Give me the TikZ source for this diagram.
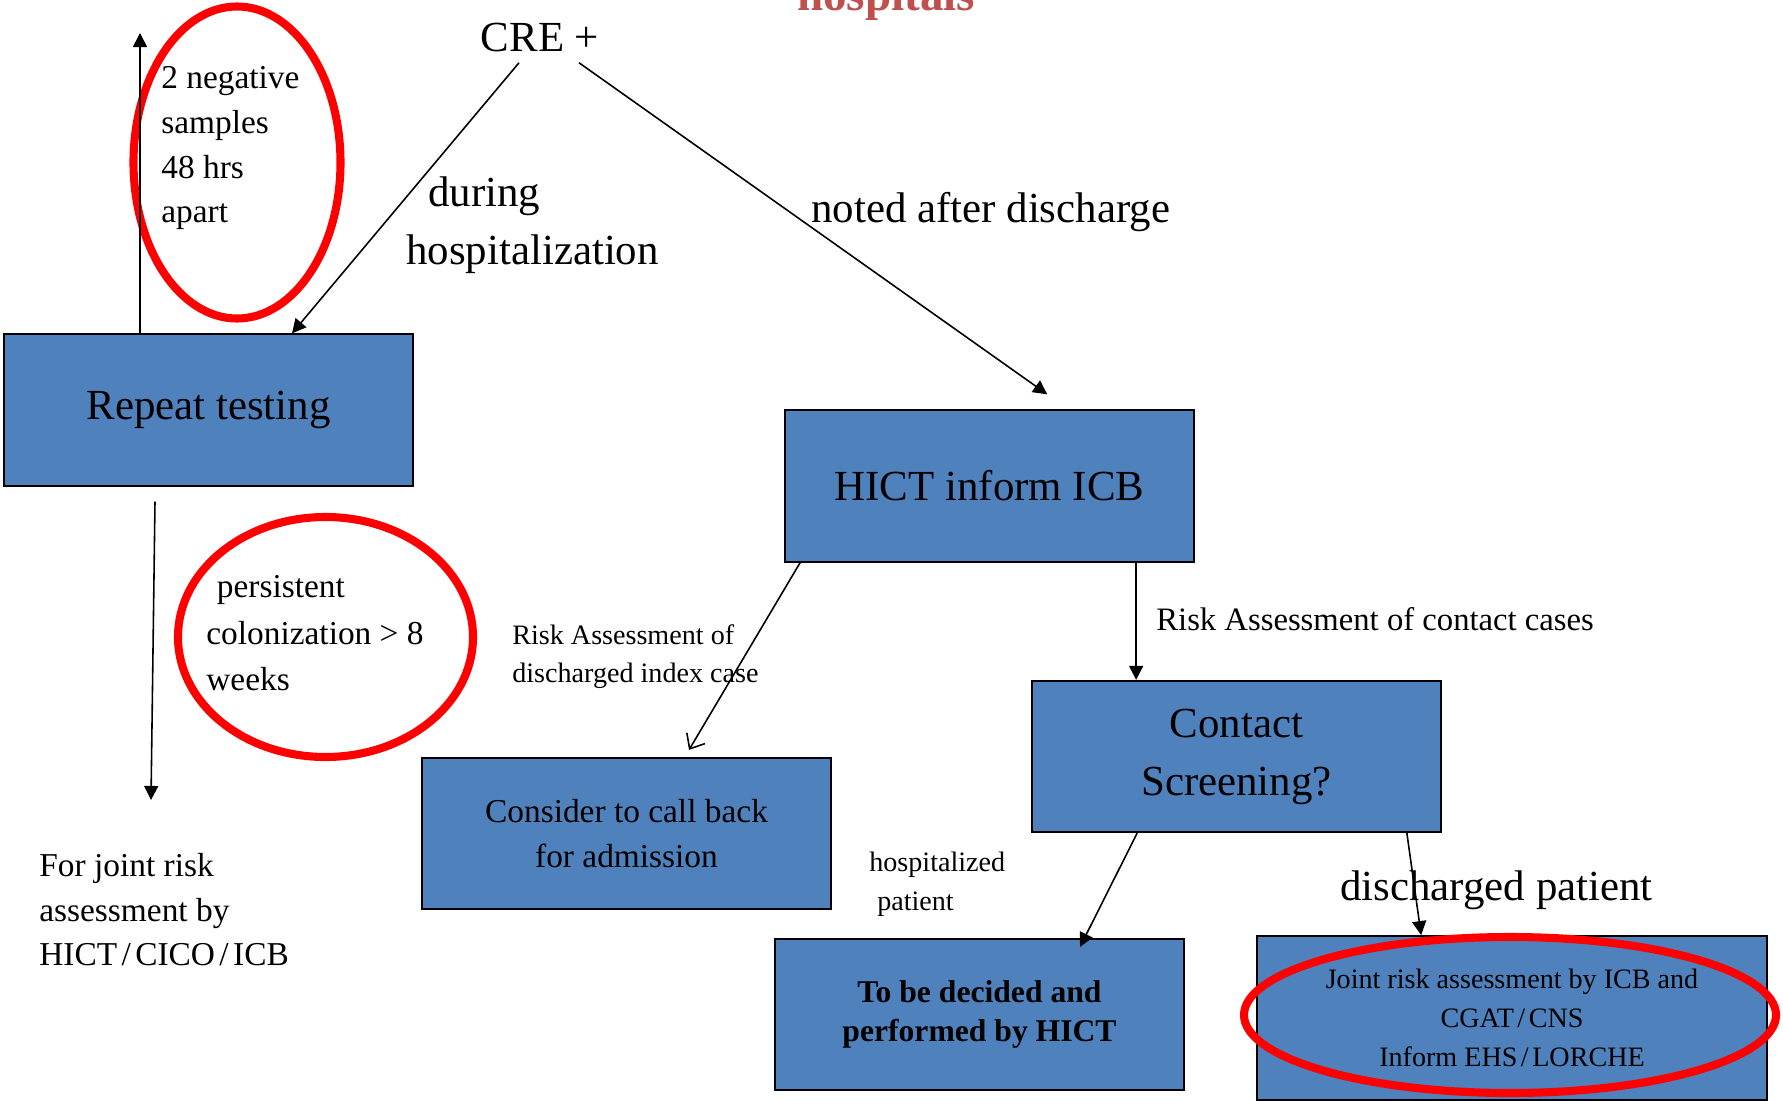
\documentclass[tikz,border=0pt]{standalone}
\usepackage{fontspec}
\setmainfont{Liberation Serif}
\usetikzlibrary{arrows.meta}
\definecolor{boxblue}{HTML}{4F81BD}
\definecolor{titlered}{HTML}{C0504D}
\newcommand{\wslash}{\kern2.5pt/\kern2.5pt}

\begin{document}
\begin{tikzpicture}[>={Triangle[length=8pt,width=8pt]},
  box/.style={draw=black, line width=1pt, fill=boxblue, minimum width=8.18cm, minimum height=3.03cm, align=center, inner sep=0pt},
  arr/.style={->, line width=0.9pt},
  ring/.style={draw=red, line width=4.6pt},
  big/.style={font=\fontsize{24.4}{33}\selectfont},
  mid/.style={font=\fontsize{19}{25.4}\selectfont},
  sml/.style={font=\fontsize{16}{22}\selectfont},
  lbl/.style={inner sep=0pt, align=left}]
  \useasboundingbox (0,0) rectangle (35.66,-22);
  % boxes
  \node[box, big] (repeat) at (4.17,-8.2) {Repeat testing};
  \node[box, big] (hict) at (19.79,-9.72) {HICT inform ICB};
  \node[box, big] (contact) at (24.73,-15.13) {Contact\\Screening?};
  \node[box, mid] (consider) at (12.53,-16.67) {Consider to call back\\for admission};
  \node[box, font=\bfseries\fontsize{18}{22.2}\selectfont] (decided) at (19.59,-20.29) {To be decided and\\performed by HICT};
  \node[box, sml, minimum width=10.2cm, minimum height=3.28cm] (joint) at (30.24,-20.36) {Joint risk assessment by ICB and\\CGAT\kern2pt/\kern2pt CNS\\Inform EHS\kern2pt/\kern2pt LORCHE};
  % red rings
  \draw[ring] (4.74,-3.25) ellipse (2.07 and 3.12);
  \draw[ring] (6.51,-12.74) ellipse (2.95 and 2.4);
  \draw[ring] (30.2,-20.3) ellipse (5.32 and 1.56);
  % labels
  \node[anchor=base, inner sep=0pt, text=titlered, font=\bfseries\fontsize{26.8}{30}\selectfont] (title) at (17.72,-0.22) {hospitals};
  \node[lbl, big, anchor=base] (cre) at (10.8,-1.04) {CRE +};
  \node[lbl, big, anchor=north west] (during) at (8.12,-3.52) {\hspace*{12.5pt}during\\hospitalization};
  \node[lbl, big, anchor=base west] (noted) at (16.22,-4.44) {noted after discharge};
  \node[lbl, mid, anchor=north west] (negs) at (3.22,-1.33) {2 negative\\samples\\48 hrs\\apart};
  \node[lbl, anchor=north west, font=\fontsize{19}{26.5}\selectfont] (persist) at (4.12,-11.5) {\hspace*{6pt}persistent\\colonization > 8\\weeks};
  \node[lbl, mid, anchor=north west] (forjoint) at (0.78,-17.06) {For joint risk\\assessment by\\HICT\wslash CICO\wslash ICB};
  \node[lbl, sml, anchor=north west] (riskidx) at (10.24,-12.48) {Risk Assessment of\\discharged index case};
  \node[lbl, anchor=base west, font=\fontsize{18.6}{22}\selectfont] (riskcon) at (23.12,-12.6) {Risk Assessment of contact cases};
  \node[lbl, sml, anchor=north west] (hosp) at (17.38,-17.04) {hospitalized\\\hspace*{4.5pt}patient};
  \node[lbl, big, anchor=base west] (dispat) at (26.8,-18.0) {discharged patient};
  % connectors
  \coordinate (uptip) at (2.8,-0.66);
  \coordinate (fjtip) at (3.02,-16.0);
  \coordinate (hcx) at ([xshift=2.1cm]contact.north west);
  \draw[arr] (repeat.north -| uptip) -- (uptip);
  \draw[arr] ([xshift=-0.42cm,yshift=-0.2cm]cre.south) -- ([xshift=1.67cm]repeat.north);
  \draw[arr, shorten >=0.52cm] ([xshift=0.78cm,yshift=-0.2cm]cre.south) -- ([xshift=1.58cm]hict.north);
  \draw[arr] ([xshift=-1.07cm,yshift=-0.3cm]repeat.south) -- (fjtip);
  \draw[line width=0.9pt, -{Straight Barb[length=7pt,width=12pt]}] ([xshift=0.32cm]hict.south west) -- ([xshift=1.25cm,yshift=0.14cm]consider.north);
  \draw[arr] (hict.south -| hcx) -- (hcx);
  \draw[arr] ([xshift=2.12cm]contact.south west) -- ([xshift=2.01cm,yshift=-0.18cm]decided.north);
  \draw[arr] ([xshift=-0.7cm]contact.south east) -- ([xshift=3.3cm]joint.north west);
\end{tikzpicture}
\end{document}
